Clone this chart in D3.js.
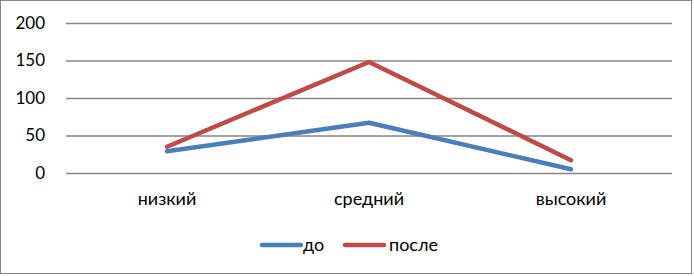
<!DOCTYPE html>
<html>
<head>
<meta charset="utf-8">
<script src="https://cdn.jsdelivr.net/npm/d3@7"></script>
<style>
  body { margin: 0; background: #fff; }
  svg { display: block; font-family: Lato, "Liberation Sans", sans-serif; }
</style>
</head>
<body>
<svg id="chart" width="694" height="276"></svg>
<script>
const categories = ['низкий', 'средний', 'высокий']
const seriesNames = ['до', 'после']
const before = [29, 67, 5]
const after = [35, 148, 17]
const yTicks = [0, 50, 100, 150, 200]

const colors = ['#4a7ebb', '#be4b48']
const series = [before, after]

const size = { width: 694, height: 276 }
const plot = { left: 66, right: 672, top: 23, bottom: 173 }

const svg = d3.select('#chart')

// outer frame
svg.append('rect')
  .attr('x', 0.5).attr('y', 0.5)
  .attr('width', size.width - 3).attr('height', size.height - 3)
  .attr('fill', '#fff')
  .attr('stroke', '#868686')
  .attr('stroke-width', 1)

const x = d3.scaleBand()
  .domain(categories)
  .range([plot.left, plot.right])

const y = d3.scaleLinear()
  .domain([0, 200])
  .range([plot.bottom, plot.top])

// gridlines + y labels
svg.append('g')
  .attr('transform', 'translate(' + plot.left + ',0)')
  .call(d3.axisLeft(y)
    .tickValues(yTicks)
    .tickSize(-(plot.right - plot.left))
    .tickPadding(21)
    .tickFormat(d3.format('d')))
  .call(g => g.select('.domain').remove())
  .call(g => g.selectAll('.tick line')
    .attr('stroke', '#868686')
    .attr('stroke-width', 1.5))
  .call(g => g.selectAll('.tick text')
    .attr('fill', '#000')
    .attr('font-size', 17)
    .attr('font-family', 'Lato, sans-serif'))

// category labels
svg.append('g')
  .attr('transform', 'translate(0,' + plot.bottom + ')')
  .call(d3.axisBottom(x).tickSize(0).tickPadding(19))
  .call(g => g.select('.domain').remove())
  .call(g => g.selectAll('.tick text')
    .attr('fill', '#000')
    .attr('font-size', 18)
    .attr('font-family', 'Lato, sans-serif'))

const line = d3.line()
  .x((d, i) => x(categories[i]) + x.bandwidth() / 2)
  .y(d => y(d))

svg.append('g')
  .selectAll('path')
  .data(series)
  .join('path')
    .attr('d', d => line(d))
    .attr('fill', 'none')
    .attr('stroke', (_, i) => colors[i])
    .attr('stroke-width', 4.5)
    .attr('stroke-linecap', 'round')
    .attr('stroke-linejoin', 'round')

// legend
const legendItems = [
  { x: 262, textX: 303 },
  { x: 345, textX: 389 }
]
const legend = svg.append('g')
  .selectAll('g')
  .data(seriesNames)
  .join('g')
legend.append('line')
  .attr('x1', (_, i) => legendItems[i].x)
  .attr('x2', (_, i) => legendItems[i].x + 39)
  .attr('y1', 245).attr('y2', 245)
  .attr('stroke', (_, i) => colors[i])
  .attr('stroke-width', 4.5)
  .attr('stroke-linecap', 'round')
legend.append('text')
  .attr('x', (_, i) => legendItems[i].textX)
  .attr('y', 251)
  .attr('font-size', 18)
  .attr('fill', '#000')
  .text(d => d)
</script>
</body>
</html>
